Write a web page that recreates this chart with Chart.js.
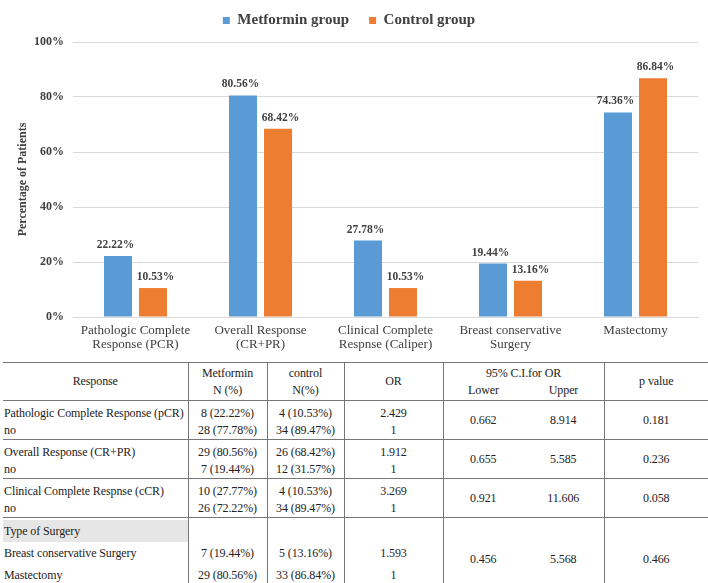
<!DOCTYPE html>
<html>
<head>
<meta charset="utf-8">
<script src="https://cdn.jsdelivr.net/npm/chart.js@4/dist/chart.umd.min.js"></script>
<style>
  html, body { margin:0; padding:0; background:#fff; }
  body { width:708px; height:583px; position:relative; overflow:hidden; }
  #chartBox { position:absolute; left:0; top:0; width:708px; height:360px; }
  #tbl { position:absolute; left:3px; top:362px; width:705px; border-collapse:collapse; table-layout:fixed;
         font:12px 'Liberation Serif', 'Times New Roman', serif; color:#222; letter-spacing:-0.1px; }
  #tbl td, #tbl th { padding:0; font-weight:normal; text-align:center; vertical-align:middle;
                     border-top:1px solid #777; }
  #tbl .vl { border-left:1px solid #777; }
  #tbl .lft { text-align:left; }
  #tbl .ln { height:17px; line-height:17px; white-space:nowrap; }
  #tbl .hd { height:17px; line-height:17px; }
  #tbl .grp { padding-top:4px; padding-bottom:0; }
  #tbl .big .grp { padding-top:2px; }
  #tbl .big .ln { height:22px; line-height:22px; }
  #tbl .shade { background:#e6e6e6; }
</style>
</head>
<body>
<div id="chartBox"><canvas id="myChart"></canvas></div>
<table id="tbl">
  <colgroup>
    <col style="width:185px"><col style="width:79px"><col style="width:77px"><col style="width:99px">
    <col style="width:80px"><col style="width:81px"><col style="width:104px">
  </colgroup>
  <thead id="th"></thead>
  <tbody id="tb"></tbody>
</table>
<script>
// chart data
var categories = [['Pathologic Complete', 'Response (PCR)'], ['Overall Response', '(CR+PR)'],
                  ['Clinical Complete', 'Respnse (Caliper)'], ['Breast conservative', 'Surgery'], ['Mastectomy']];
var seriesNames = ['Metformin group', 'Control group'];
var metforminPct = [22.22, 80.56, 27.78, 19.44, 74.36];
var controlPct = [10.53, 68.42, 10.53, 13.16, 86.84];

// table data
var headers = [['Response'], ['Metformin', 'N (%)'], ['control', 'N(%)'], ['OR'], ['95% C.I.for OR'], ['p value']];
var ciHeaders = ['Lower', 'Upper'];
var rowLabels = [['Pathologic Complete Response (pCR)', 'no'], ['Overall Response (CR+PR)', 'no'],
                 ['Clinical Complete Respnse (cCR)', 'no'], ['Type of Surgery', 'Breast conservative Surgery', 'Mastectomy']];
var metforminN = [['8 (22.22%)', '28 (77.78%)'], ['29 (80.56%)', '7 (19.44%)'],
                  ['10 (27.77%)', '26 (72.22%)'], ['', '7 (19.44%)', '29 (80.56%)']];
var controlN = [['4 (10.53%)', '34 (89.47%)'], ['26 (68.42%)', '12 (31.57%)'],
                ['4 (10.53%)', '34 (89.47%)'], ['', '5 (13.16%)', '33 (86.84%)']];
var oddsRatio = [['2.429', '1'], ['1.912', '1'], ['3.269', '1'], ['', '1.593', '1']];
var ciLower = ['0.662', '0.655', '0.921', '0.456'];
var ciUpper = ['8.914', '5.585', '11.606', '5.568'];
var pValues = ['0.181', '0.236', '0.058', '0.466'];

var serif = "'Liberation Serif', 'Times New Roman', serif";
Chart.defaults.font.family = serif;

// value labels above the bars
var barValueLabels = {
    id: 'barValueLabels',
    afterDatasetsDraw: function (chart) {
        var ctx = chart.ctx;
        ctx.save();
        ctx.font = 'bold 11.5px ' + serif;
        ctx.fillStyle = '#404040';
        ctx.textAlign = 'center';
        ctx.textBaseline = 'middle';
        chart.data.datasets.forEach(function (ds, i) {
            var shift = i === 0 ? -2.5 : 2.5;
            chart.getDatasetMeta(i).data.forEach(function (bar, j) {
                ctx.fillText(ds.data[j].toFixed(2) + '%', bar.x + shift, bar.y - 11);
            });
        });
        ctx.restore();
    }
};

// a bit more room under the legend
var legendGap = {
    id: 'legendGap',
    beforeInit: function (chart) {
        if (!chart.legend) return;
        var fit = chart.legend.fit;
        chart.legend.fit = function () {
            fit.call(this);
            this.height += 4;
        };
    }
};

var ctx = document.getElementById('myChart').getContext('2d');
var chart = new Chart(ctx, {
    type: 'bar',
    data: {
        labels: categories,
        datasets: [{
            label: seriesNames[0],
            backgroundColor: '#5B9BD5',
            data: metforminPct
        }, {
            label: seriesNames[1],
            backgroundColor: '#ED7D31',
            data: controlPct
        }]
    },
    options: {
        responsive: true,
        maintainAspectRatio: false,
        animation: false,
        categoryPercentage: 0.56,
        barPercentage: 0.8,
        layout: { padding: { top: -7, left: 0, right: 10, bottom: 0 } },
        plugins: {
            tooltip: { enabled: false },
            legend: {
                position: 'top',
                labels: {
                    boxWidth: 7,
                    boxHeight: 7,
                    padding: 20,
                    color: '#404040',
                    font: { size: 15, weight: 'bold', family: serif }
                }
            }
        },
        scales: {
            x: {
                grid: { display: false, drawTicks: false },
                border: { display: true, color: '#d9d9d9' },
                ticks: {
                    color: '#404040',
                    padding: 7,
                    autoSkip: false,
                    maxRotation: 0,
                    font: { size: 13, lineHeight: 1.05, family: serif }
                },
                afterFit: function (scale) { scale.height = 43; }
            },
            y: {
                min: 0,
                max: 100,
                grid: { color: '#d9d9d9', drawTicks: false },
                border: { display: false },
                ticks: {
                    stepSize: 20,
                    padding: 9,
                    color: '#404040',
                    font: { size: 12, weight: 'bold', family: serif },
                    callback: function (v) { return v + '%'; }
                },
                title: {
                    display: true,
                    text: 'Percentage of Patients',
                    color: '#404040',
                    padding: { top: 16, bottom: 0 },
                    font: { size: 12, weight: 'bold', family: serif }
                },
                afterFit: function (scale) { scale.width = 73; }
            }
        }
    },
    plugins: [barValueLabels, legendGap]
});

// table
function lines(arr) {
    return arr.map(function (t) {
        return '<div class="ln">' + (t || '&nbsp;') + '</div>';
    }).join('');
}

var head = '<tr style="height:38px">';
head += '<th>' + headers[0][0] + '</th>';
head += '<th class="vl">' + headers[1].map(function (t) { return '<div class="hd">' + t + '</div>'; }).join('') + '</th>';
head += '<th class="vl">' + headers[2].map(function (t) { return '<div class="hd">' + t + '</div>'; }).join('') + '</th>';
head += '<th class="vl">' + headers[3][0] + '</th>';
head += '<th class="vl" colspan="2"><div class="hd">' + headers[4][0] + '</div><div class="hd" style="display:flex">' +
        ciHeaders.map(function (t) { return '<span style="flex:1">' + t + '</span>'; }).join('') + '</div></th>';
head += '<th class="vl">' + headers[5][0] + '</th></tr>';
document.getElementById('th').innerHTML = head;

var body = '';
rowLabels.forEach(function (lab, g) {
    var big = lab.length > 2;
    var tail = big ? '<div style="height:14px"></div>' : '';
    body += '<tr class="' + (big ? 'big' : '') + '">';
    body += '<td class="lft grp">' + lab.map(function (t, k) {
        var shade = big && k === 0 ? ' shade' : '';
        return '<div class="ln' + shade + '" style="padding-left:1px">' + t + '</div>';
    }).join('') + tail + '</td>';
    body += '<td class="vl grp">' + lines(metforminN[g]) + tail + '</td>';
    body += '<td class="vl grp">' + lines(controlN[g]) + tail + '</td>';
    body += '<td class="vl grp">' + lines(oddsRatio[g]) + tail + '</td>';
    body += '<td class="vl">' + ciLower[g] + '</td>';
    body += '<td>' + ciUpper[g] + '</td>';
    body += '<td class="vl">' + pValues[g] + '</td>';
    body += '</tr>';
});
document.getElementById('tb').innerHTML = body;
</script>
</body>
</html>
